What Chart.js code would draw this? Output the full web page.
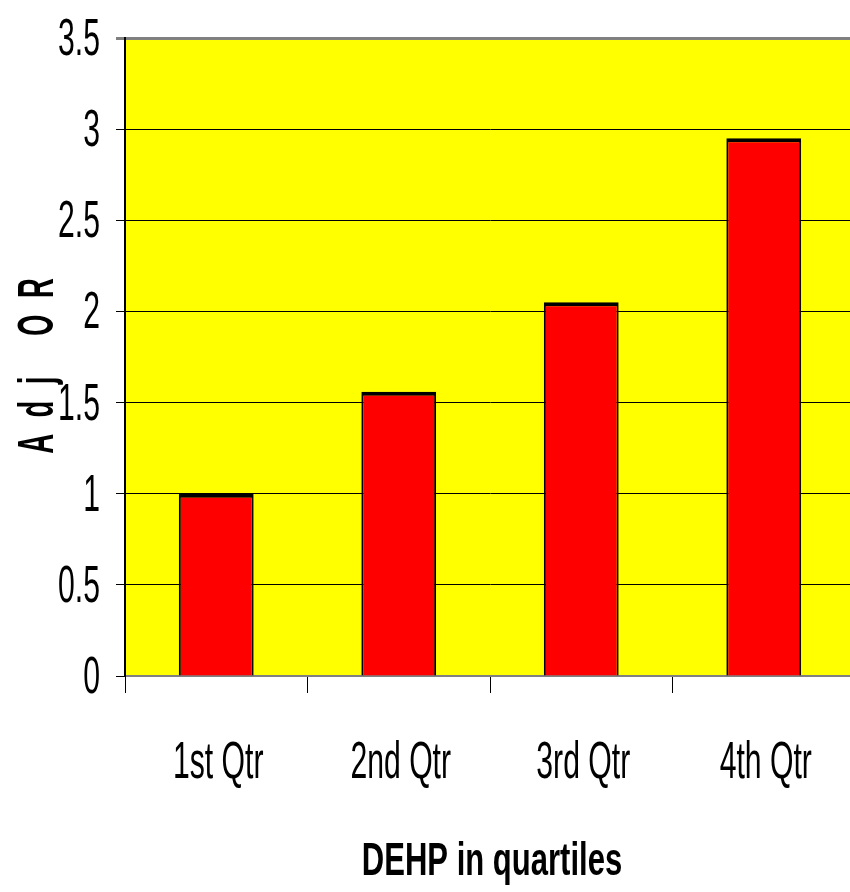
<!DOCTYPE html>
<html>
<head>
<meta charset="utf-8">
<title>DEHP in quartiles</title>
<script src="https://cdn.jsdelivr.net/npm/chart.js@4/dist/chart.umd.min.js"></script>
<style>
  html, body { margin: 0; padding: 0; background: #fff; overflow: hidden; width: 850px; height: 892px; }
  canvas { display: block; }
</style>
</head>
<body>
<canvas id="chart" width="855" height="892"></canvas>
<script>
// Chart data
const categories = ['1st Qtr', '2nd Qtr', '3rd Qtr', '4th Qtr'];
const adjOR = [1.0, 1.56, 2.05, 2.95];
const yTicks = [0, 0.5, 1, 1.5, 2, 2.5, 3, 3.5];
const yTickLabels = ['0', '0.5', '1', '1.5', '2', '2.5', '3', '3.5'];
const xTitle = 'DEHP in quartiles';
const yTitle = 'Adj OR';

const FONT = '"Liberation Sans", Arial, sans-serif';

// draw narrow text by squeezing the canvas horizontally
function squeezedText(ctx, text, x, y, sx, align) {
  ctx.save();
  ctx.translate(x, y);
  ctx.scale(sx, 1);
  ctx.textAlign = align;
  ctx.fillText(text, 0, 0);
  ctx.restore();
}

// yellow plot background
const plotBackground = {
  id: 'plotBackground',
  beforeDraw(chart) {
    const { ctx, chartArea } = chart;
    ctx.save();
    ctx.fillStyle = '#ffff00';
    ctx.fillRect(chartArea.left, chartArea.top, chartArea.right - chartArea.left, chartArea.bottom - chartArea.top);
    ctx.restore();
  }
};

// labels and titles
const axisText = {
  id: 'axisText',
  afterDraw(chart) {
    const ctx = chart.ctx;
    const x = chart.scales.x;
    const y = chart.scales.y;
    ctx.save();
    ctx.fillStyle = '#000';
    ctx.textBaseline = 'alphabetic';

    // y tick labels
    ctx.font = '52px ' + FONT;
    yTicks.forEach((v, i) => {
      squeezedText(ctx, yTickLabels[i], 100, y.getPixelForValue(v) + 17, 0.58, 'right');
    });

    // category labels
    categories.forEach((c, i) => {
      squeezedText(ctx, c, x.getPixelForValue(i) + 2, 778, 0.58, 'center');
    });

    // x title
    ctx.font = 'bold 47px ' + FONT;
    squeezedText(ctx, xTitle, 492, 875, 0.66, 'center');

    // y title, rotated and spaced out
    ctx.save();
    ctx.translate(53, 366);
    ctx.rotate(-Math.PI / 2);
    ctx.scale(0.55, 1);
    ctx.font = 'bold 50px ' + FONT;
    ctx.letterSpacing = '30px';
    const w = ctx.measureText(yTitle).width - 30;
    ctx.textAlign = 'left';
    ctx.fillText(yTitle, -w / 2, 0);
    ctx.restore();

    ctx.restore();
  }
};

new Chart(document.getElementById('chart'), {
  type: 'bar',
  data: {
    labels: categories,
    datasets: [{
      label: 'Adj OR',
      data: adjOR,
      backgroundColor: '#ff0000',
      borderColor: '#000000',
      borderWidth: { top: 4, left: 2, right: 2, bottom: 0 },
      borderSkipped: 'bottom',
      barPercentage: 0.41,
      categoryPercentage: 1.0
    }]
  },
  options: {
    responsive: false,
    animation: false,
    layout: { padding: { top: 38, right: 0, left: 0, bottom: 0 } },
    plugins: {
      legend: { display: false },
      tooltip: { enabled: false }
    },
    scales: {
      x: {
        offset: true,
        grid: {
          offset: true,
          drawOnChartArea: false,
          drawTicks: true,
          tickLength: 17,
          color: '#000'
        },
        border: { display: true, color: '#808080', width: 2 },
        ticks: { display: false },
        afterFit(scale) { scale.height = 892 - 38 - 638; }
      },
      y: {
        min: 0,
        max: 3.5,
        grid: {
          color: ctx => (ctx.tick && ctx.tick.value === 3.5 ? '#808080' : '#000'),
          lineWidth: ctx => (ctx.tick && ctx.tick.value === 3.5 ? 3 : 1),
          drawTicks: true,
          tickLength: 9
        },
        border: { display: true, color: '#000', width: 2 },
        ticks: { display: false, stepSize: 0.5 },
        afterFit(scale) { scale.width = 125; }
      }
    }
  },
  plugins: [plotBackground, axisText]
});
</script>
</body>
</html>
